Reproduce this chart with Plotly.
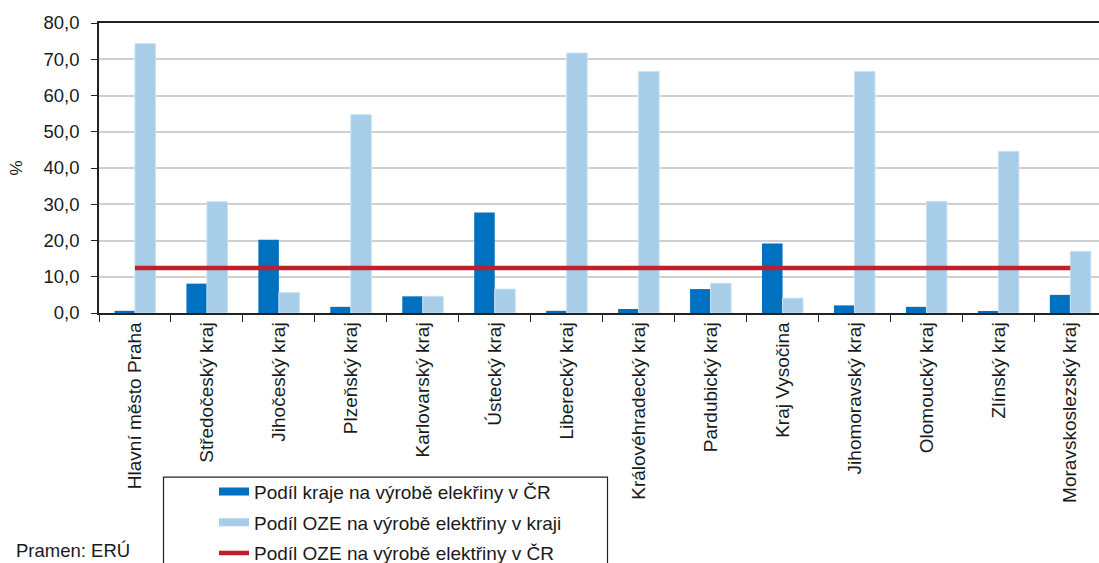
import plotly.graph_objects as go

# Kraje (regions)
kraje = [
    "Hlavní město Praha", "Středočeský kraj", "Jihočeský kraj", "Plzeňský kraj",
    "Karlovarský kraj", "Ústecký kraj", "Liberecký kraj", "Královéhradecký kraj",
    "Pardubický kraj", "Kraj Vysočina", "Jihomoravský kraj", "Olomoucký kraj",
    "Zlínský kraj", "Moravskoslezský kraj",
]

# Podíl kraje na výrobě elektřiny v ČR (%)
podil_kraje = [0.6, 8.1, 20.2, 1.7, 4.6, 27.7, 0.6, 1.1, 6.6, 19.2, 2.1, 1.7, 0.5, 5.0]

# Podíl OZE na výrobě elektřiny v kraji (%)
podil_oze_kraj = [74.3, 30.7, 5.6, 54.7, 4.6, 6.6, 71.7, 66.6, 8.2, 4.1, 66.6, 30.8, 44.6, 17.0]

# Podíl OZE na výrobě elektřiny v ČR (%)
podil_oze_cr = [12.4, 12.4, 12.4, 12.4, 12.4, 12.4, 12.4, 12.4, 12.4, 12.4, 12.4, 12.4, 12.4, 12.4]

nazvy = [
    "Podíl kraje na výrobě elekřiny v ČR",
    "Podíl OZE na výrobě elektřiny v kraji",
    "Podíl OZE na výrobě elektřiny v ČR",
]

C_DARK = "#0070C0"
C_LIGHT = "#A7CDE8"
C_RED = "#C01F2C"
C_TEXT = "#1a1a1a"
FONT = "Liberation Sans, Arial, sans-serif"

# plot area in pixels
W, H = 1099, 563
L, T, B = 99, 23, 249.5
PW, PH = W - L, H - T - B


def px_x(px):
    return (px - L) / PW


def px_y(py):
    return (H - B - py) / PH


fig = go.Figure()

fig.add_trace(go.Bar(
    x=kraje, y=podil_kraje, name=nazvy[0], marker_color=C_DARK,
    marker_line_width=0, showlegend=False,
))
fig.add_trace(go.Bar(
    x=kraje, y=podil_oze_kraj, name=nazvy[1], marker_color=C_LIGHT,
    marker_line=dict(color="#C9E1F2", width=1), showlegend=False,
))
fig.add_trace(go.Scatter(
    x=kraje, y=podil_oze_cr, name=nazvy[2], mode="lines",
    line=dict(color=C_RED, width=4.5), showlegend=False,
))

# legend entries drawn as thick strokes
for i, (nazev, barva, sirka) in enumerate(zip(nazvy, [C_DARK, C_LIGHT, C_RED], [8, 8, 4.5])):
    fig.add_trace(go.Scatter(
        x=[None], y=[None], mode="lines", name=nazev,
        line=dict(color=barva, width=sirka), legendgroup=f"g{i}",
    ))

fig.update_layout(
    width=W, height=H,
    margin=dict(l=L, r=0, t=T, b=B, autoexpand=False),
    paper_bgcolor="white", plot_bgcolor="white",
    barmode="group", bargap=0.43, bargroupgap=0.0,
    separators=", ",
    font=dict(family=FONT, size=18, color=C_TEXT),
    legend=dict(
        x=px_x(163), y=px_y(473.5), xanchor="left", yanchor="top",
        borderwidth=0, bgcolor="rgba(0,0,0,0)",
        font=dict(family=FONT, size=19, color=C_TEXT),
        tracegroupgap=3, indentation=51,
    ),
    shapes=[dict(
        type="rect", xref="paper", yref="paper",
        x0=px_x(163.5), x1=px_x(607.5), y0=px_y(478), y1=px_y(580),
        line=dict(color="#222222", width=1.2), fillcolor="rgba(0,0,0,0)",
        layer="above",
    )],
    annotations=[dict(
        text="Pramen: ERÚ", xref="paper", yref="paper",
        x=px_x(14), y=px_y(551),
        xanchor="left", yanchor="middle", showarrow=False,
        font=dict(family=FONT, size=18.5, color=C_TEXT),
    )],
)

fig.update_xaxes(
    type="category", range=[-0.5, (W - L) / 71.95 - 0.5],
    showline=True, linecolor="#222222", linewidth=1.5, mirror=True,
    ticks="outside", tickson="boundaries", ticklen=7, tickcolor="#222222",
    tickangle=-90, tickfont=dict(family=FONT, size=19, color=C_TEXT),
    showgrid=False, automargin=False,
)
fig.update_yaxes(
    range=[0, 80], dtick=10, tickformat=".1f",
    showline=True, linecolor="#222222", linewidth=1.5,
    ticks="outside", ticklen=6, tickcolor="#222222", ticklabelstandoff=8,
    showgrid=True, gridcolor="#D0D0D0", gridwidth=1.5,
    tickfont=dict(family=FONT, size=18.5, color=C_TEXT),
    title=dict(text="%", font=dict(family=FONT, size=17, color=C_TEXT), standoff=17),
    automargin=False,
)

fig.write_html("out.html")
